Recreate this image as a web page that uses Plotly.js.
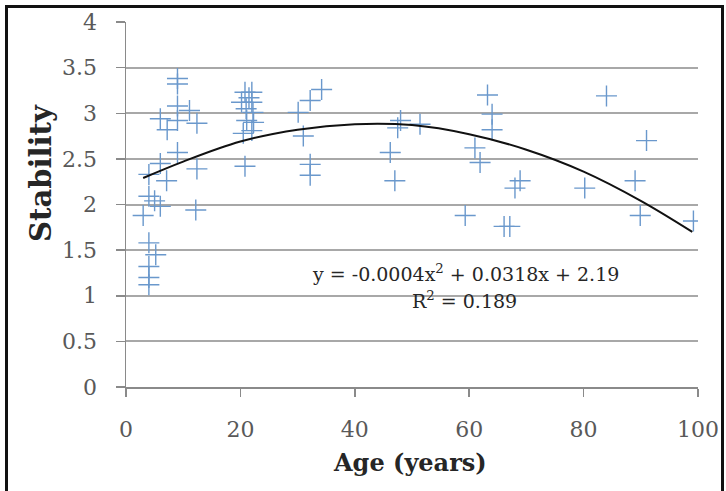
<!DOCTYPE html>
<html>
<head>
<meta charset="utf-8">
<script src="https://cdn.plot.ly/plotly-3.0.1.min.js"></script>
<style>
  html, body { margin: 0; padding: 0; background: #fff; overflow: hidden; }
  #wrap { position: relative; width: 726px; height: 491px; }
  #chart { width: 726px; height: 491px; }
  #frame { position: absolute; left: 5px; top: 5px; width: 719px; height: 520px;
           border: 3px solid #111; pointer-events: none; box-sizing: border-box; }
</style>
</head>
<body>
<div id="wrap">
  <div id="chart"></div>
  <div id="frame"></div>
</div>
<script>
// Scatter data: age (years) vs stability
const ages = [3, 4, 4, 4, 4, 4, 4, 5, 5.2, 6, 6, 6, 7.1, 7.2,
              9, 9, 9, 9, 9, 11.1, 12.4, 12.4, 12.2,
              20.2, 20.5, 20.8, 20.8, 21, 21.1, 21.5, 22, 22, 22.2, 22.3, 22,
              30.1, 31, 32.2, 32.2, 32.2, 34.2,
              46.2, 47, 47.5, 48, 51.4,
              59.3, 61, 61.9, 63.2, 64, 64, 66.1, 67.1, 68, 68.9,
              80.2, 84, 89, 89.9, 91, 99.2];
const stability = [1.88, 2.09, 2.33, 1.58, 1.32, 1.20, 1.12, 2.04, 1.45, 1.98, 2.45, 2.94, 2.26, 2.82,
                   3.38, 3.32, 3.08, 2.92, 2.57, 3.03, 2.89, 2.39, 1.94,
                   3.12, 2.78, 3.23, 2.42, 3.05, 2.92, 3.17, 3.23, 3.12, 3.01, 2.90, 2.81,
                   3.01, 2.75, 3.14, 2.44, 2.32, 3.26,
                   2.57, 2.26, 2.84, 2.92, 2.88,
                   1.88, 2.62, 2.46, 3.20, 2.99, 2.82, 1.76, 1.76, 2.18, 2.26,
                   2.18, 3.19, 2.26, 1.88, 2.70, 1.82];

// Polynomial trendline
const trendX = [3, 10, 20, 30, 40, 50, 60, 70, 80, 90, 99];
const trendY = [2.29, 2.47, 2.69, 2.82, 2.88, 2.87, 2.77, 2.60, 2.36, 2.04, 1.70];

// Axis ticks
const xTicks = [0, 20, 40, 60, 80, 100];
const yTicks = [0, 0.5, 1, 1.5, 2, 2.5, 3, 3.5, 4];

const equationText = 'y = -0.0004x<sup>2</sup> + 0.0318x + 2.19';
const r2Text = 'R<sup>2</sup> = 0.189';

const tickFont = { family: 'DejaVu Serif', size: 22, color: '#595959' };
const titleFont = { family: 'DejaVu Serif', size: 24, color: '#262626', weight: 'bold' };

const traces = [
  {
    type: 'scatter', mode: 'markers', x: ages, y: stability,
    marker: { symbol: 'cross-thin-open', size: 15, color: '#6a98cc',
              line: { color: '#6a98cc', width: 1.4 } },
    hoverinfo: 'x+y'
  },
  {
    type: 'scatter', mode: 'lines', x: trendX, y: trendY,
    line: { color: '#111111', width: 2, shape: 'spline' },
    hoverinfo: 'skip'
  }
];

const layout = {
  width: 726, height: 491,
  margin: { l: 126, r: 28, t: 22, b: 104 },
  paper_bgcolor: '#ffffff', plot_bgcolor: '#ffffff',
  showlegend: false,
  xaxis: {
    range: [0, 100], tickvals: xTicks, ticktext: xTicks.map(String),
    showgrid: false, zeroline: false,
    showline: true, linecolor: '#8a8a8a', linewidth: 1.5,
    ticks: 'outside', ticklen: 8, tickwidth: 1.5, tickcolor: '#8a8a8a',
    ticklabelstandoff: 14,
    tickfont: tickFont
  },
  yaxis: {
    range: [0, 4], tickvals: yTicks, ticktext: yTicks.map(String),
    showgrid: true, gridcolor: '#a8a8a8', gridwidth: 2, zeroline: false,
    showline: true, linecolor: '#8a8a8a', linewidth: 1.5,
    ticks: 'outside', ticklen: 9, tickwidth: 1.5, tickcolor: '#8a8a8a',
    ticklabelstandoff: 14,
    tickfont: tickFont
  },
  annotations: [
    { text: 'Stability', xref: 'paper', yref: 'paper', x: -0.149, y: 0.586,
      xanchor: 'center', yanchor: 'middle', textangle: -90, showarrow: false,
      font: { family: 'DejaVu Serif', size: 29, color: '#262626', weight: 'bold' } },
    { text: 'Age (years)', xref: 'paper', yref: 'paper', x: 0.4965, y: -0.207,
      xanchor: 'center', yanchor: 'middle', showarrow: false, font: titleFont },
    { text: equationText, xref: 'paper', yref: 'paper', x: 0.594, y: 0.3125,
      xanchor: 'center', yanchor: 'middle', showarrow: false,
      font: { family: 'DejaVu Serif', size: 19, color: '#262626' } },
    { text: r2Text, xref: 'paper', yref: 'paper', x: 0.591, y: 0.239,
      xanchor: 'center', yanchor: 'middle', showarrow: false,
      font: { family: 'DejaVu Serif', size: 19, color: '#262626' } }
  ]
};

Plotly.newPlot('chart', traces, layout, { displayModeBar: false, staticPlot: true });
</script>
</body>
</html>
